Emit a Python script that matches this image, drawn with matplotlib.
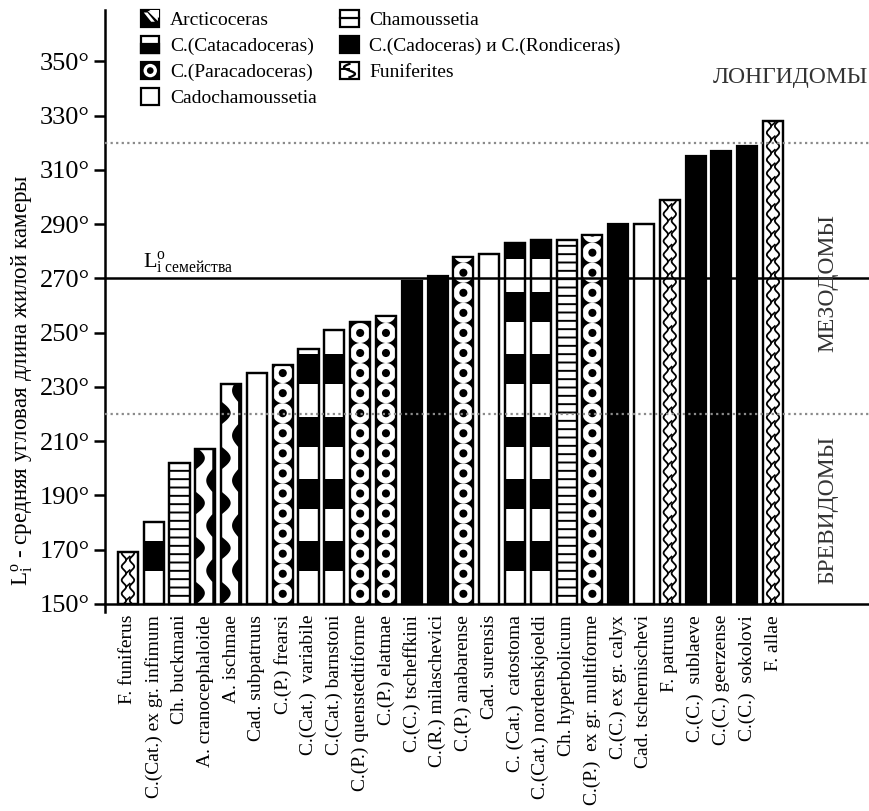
import numpy as np
import matplotlib
matplotlib.use("Agg")
import matplotlib.pyplot as plt
from matplotlib.patches import Patch, Rectangle, Circle, Polygon
from matplotlib.lines import Line2D
from matplotlib.legend_handler import HandlerBase

plt.rcParams['font.family'] = ['Liberation Serif', 'DejaVu Serif']
plt.rcParams['mathtext.fontset'] = 'custom'
plt.rcParams['mathtext.rm'] = 'Liberation Serif'
plt.rcParams['mathtext.it'] = 'Liberation Serif:italic'
plt.rcParams['hatch.linewidth'] = 1.4

species = ['F. funiferus', 'C.(Cat.) ex gr. infimum', 'Ch. buckmani',
           'A. cranocephaloide', 'A. ischmae', 'Cad. subpatruus',
           'C.(P.) frearsi', 'C.(Cat.)  variabile', 'C.(Cat.) barnstoni',
           'C.(P.) quenstedtiforme', 'C.(P.) elatmae', 'C.(C.) tscheffkini',
           'C.(R.) milaschevici', 'C.(P.) anabarense', 'Cad. surensis',
           'C. (Cat.)  catostoma', 'C.(Cat.) nordenskjoeldi', 'Ch. hyperbolicum',
           'C.(P.)  ex gr. multiforme', 'C.(C.) ex gr. calyx', 'Cad. tschernischevi',
           'F. patruus', 'C.(C.)  sublaeve', 'C.(C.) geerzense',
           'C.(C.)  sokolovi', 'F. allae']
angles = [169, 180, 202, 207, 231, 235, 238, 244, 251, 254, 256, 269, 271,
          278, 279, 283, 284, 284, 286, 290, 290, 299, 315, 317, 319, 328]
genus = ['fun', 'cat', 'cham', 'arc', 'arc', 'cadch', 'par', 'cat', 'cat',
         'par', 'par', 'cad', 'cad', 'par', 'cadch', 'cat', 'cat', 'cham',
         'par', 'cad', 'cadch', 'fun', 'cad', 'cad', 'cad', 'fun']

legend_keys = ['arc', 'cat', 'par', 'cadch', 'cham', 'cad', 'fun']
legend_names = ['Arcticoceras', 'C.(Catacadoceras)', 'C.(Paracadoceras)',
                'Cadochamoussetia', 'Chamoussetia',
                'C.(Cadoceras) и C.(Rondiceras)', 'Funiferites']

family_mean = 270
zone_limits = [220, 320]
base = 150


class KeyHandler(HandlerBase):
    def create_artists(self, legend, orig_handle, xdescent, ydescent,
                       width, height, fontsize, trans):
        kind = orig_handle.get_gid()
        x0, y0 = -xdescent, -ydescent
        w, h = width, height
        arts = []
        face = 'black' if kind in ('cad', 'par') else 'white'
        arts.append(Rectangle((x0, y0), w, h, facecolor=face,
                              edgecolor='black', lw=1.6, transform=trans))
        if kind == 'cat':
            arts.append(Rectangle((x0, y0), w, h * 0.5, facecolor='black',
                                  edgecolor='black', lw=1.6, transform=trans))
        elif kind == 'par':
            c = (x0 + w / 2, y0 + h / 2)
            arts.append(Circle(c, 0.4 * h, facecolor='white', transform=trans))
            arts.append(Circle(c, 0.2 * h, facecolor='black', transform=trans))
        elif kind == 'arc':
            arts.append(Polygon([(x0, y0), (x0, y0 + h), (x0 + 0.3 * w, y0 + h),
                                 (x0 + w, y0 + 0.25 * h), (x0 + w, y0)],
                                facecolor='black', transform=trans))
            arts.append(Polygon([(x0 + 0.45 * w, y0 + h), (x0 + w, y0 + h),
                                 (x0 + w, y0 + 0.55 * h)],
                                facecolor='white', transform=trans))
            arts.append(Polygon([(x0 + 0.15 * w, y0 + 0.85 * h), (x0 + 0.35 * w, y0 + 0.85 * h),
                                 (x0 + 0.75 * w, y0 + 0.3 * h), (x0 + 0.55 * w, y0 + 0.3 * h)],
                                facecolor='white', transform=trans))
        elif kind == 'cham':
            arts.append(Line2D([x0, x0 + w], [y0 + h / 2, y0 + h / 2],
                               color='black', lw=1.6, transform=trans))
        elif kind == 'fun':
            t = np.linspace(0, 1, 40)
            arts.append(Line2D(x0 + w * (0.5 + 0.3 * np.sin(2 * np.pi * t)),
                               y0 + h * (0.1 + 0.8 * t),
                               color='black', lw=1.6, transform=trans))
            arts.append(Line2D([x0 + 0.1 * w, x0 + 0.5 * w], [y0 + 0.6 * h, y0 + 0.6 * h],
                               color='black', lw=1.4, transform=trans))
        return arts


fig = plt.figure(figsize=(8.69, 8.11), dpi=100)
ax = fig.add_axes([0.1208, 0.2454, 0.8792, 0.7423])

x = np.arange(len(species))
w = 0.78
for xi, top, g in zip(x, angles, genus):
    height = top - base
    if g == 'cad':
        ax.bar(xi, height, bottom=base, width=w, color='black',
               edgecolor='black', lw=1.6, zorder=2)
        continue
    face = 'black' if g == 'par' else 'white'
    hatch = '--' if g == 'cham' else None
    rect = ax.bar(xi, height, bottom=base, width=w, facecolor=face,
                  edgecolor='black', lw=1.6, hatch=hatch, zorder=2)[0]
    if g == 'cat':
        # alternating black and white bands
        for b in np.arange(base + 12, top, 23):
            ax.bar(xi, min(b + 11, top) - b, bottom=b, width=w,
                   color='black', lw=0, zorder=2.2)
    elif g == 'par':
        # chain of white rings with black centres
        ys = np.arange(base + 3.7, top + 4, 7.4)
        c1 = ax.scatter(np.full(len(ys), xi), ys, s=210, c='white',
                        edgecolors='none', zorder=2.3)
        c2 = ax.scatter(np.full(len(ys), xi), ys, s=34, c='black',
                        edgecolors='none', zorder=2.4)
        c1.set_clip_path(rect)
        c2.set_clip_path(rect)
    elif g == 'fun':
        yy = np.linspace(base, top, 400)
        k = 2 * np.pi / 5.0
        for off, ph in ((-0.2, 0.0), (0.2, np.pi)):
            ln, = ax.plot(xi + w * (off + 0.11 * np.sin(k * yy + ph)), yy,
                          color='black', lw=1.3, zorder=2.3)
            ln.set_clip_path(rect)
        # short cross links between the two waves
        for yb in np.arange(base + 1.25, top, 5.0):
            ln, = ax.plot([xi - w * 0.09, xi + w * 0.09], [yb, yb + 1.2],
                          color='black', lw=1.2, zorder=2.3)
            ln.set_clip_path(rect)
    elif g == 'arc':
        yy = np.linspace(base, top, 400)
        s = np.sin(2 * np.pi * (yy - base) / 16.6)
        left = xi - w / 2
        right = xi + w / 2
        p1 = ax.fill_betweenx(yy, left, left + w * 0.45 * np.clip(s, 0, None),
                              color='black', lw=0, zorder=2.3)
        p2 = ax.fill_betweenx(yy, right - w * (0.18 + 0.3 * np.clip(-s, 0, None)),
                              right, color='black', lw=0, zorder=2.3)
        p1.set_clip_path(rect)
        p2.set_clip_path(rect)
    # outline on top of the patterns
    ax.bar(xi, height, bottom=base, width=w, fill=False,
           edgecolor='black', lw=1.6, zorder=3)

ax.axhline(family_mean, color='black', lw=1.8, zorder=4)
for lim in zone_limits:
    ax.axhline(lim, color='#8a8a8a', lw=1.6, ls=(0, (1, 1.5)), zorder=4)

ax.set_xlim(-0.89, 28.72)
ax.set_ylim(147, 369)
ax.spines['top'].set_visible(False)
ax.spines['right'].set_visible(False)
ax.spines['bottom'].set_position(('data', base))
ax.spines['bottom'].set_linewidth(1.8)
ax.spines['left'].set_linewidth(1.8)

yt = list(range(150, 351, 20))
ax.set_yticks(yt, [f'{v}°' for v in yt])
ax.tick_params(axis='y', direction='out', length=8, width=1.8,
               labelsize=19, pad=3)
ax.set_xticks(x, species, rotation=90, fontsize=14)
ax.tick_params(axis='x', length=0, pad=8)

ax.text(0.58, 271, r'L$^{\rm o}_{\rm i\ семейства}$', fontsize=16,
        ha='left', va='bottom')

fig.text(22 / 869, 1 - 380 / 811,
         r'L$^{\rm o}_{\rm i}$ - средняя угловая длина жилой камеры',
         rotation=90, ha='center', va='center', fontsize=16.5)
fig.text(790 / 869, 1 - 78 / 811, 'ЛОНГИДОМЫ', fontsize=17,
         color='#333333', ha='center', va='center')
fig.text(828 / 869, 1 - 283 / 811, 'МЕЗОДОМЫ', fontsize=17, rotation=90,
         color='#333333', ha='center', va='center')
fig.text(828 / 869, 1 - 510 / 811, 'БРЕВИДОМЫ', fontsize=17, rotation=90,
         color='#333333', ha='center', va='center')

handles = []
for key in legend_keys:
    p = Patch()
    p.set_gid(key)
    handles.append(p)
fig.legend(handles, legend_names, handler_map={Patch: KeyHandler()},
           ncol=2, loc='upper left', bbox_to_anchor=(141 / 869, 1 - 10 / 811),
           frameon=False, fontsize=14, handlelength=0.95, handleheight=0.95,
           handletextpad=0.55, labelspacing=0.36, columnspacing=1.2,
           borderpad=0, borderaxespad=0)

fig.savefig('out.png', dpi=100)
